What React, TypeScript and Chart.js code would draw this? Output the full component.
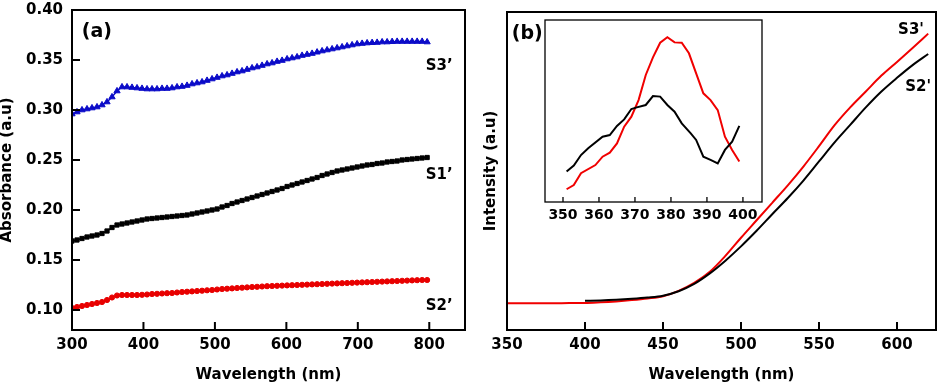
import React, { useEffect, useRef } from "react";
import { Chart, registerables } from "chart.js";
Chart.register(...registerables);

const FONT = '"DejaVu Sans", sans-serif';

// ---------- Panel (a): absorbance ----------
const wavelengthsA = [300,307,314,321,328,335,342,349,356,363,370,377,384,391,398,405,412,419,426,433,440,447,454,461,468,475,482,489,496,503,510,517,524,531,538,545,552,559,566,573,580,587,594,601,608,615,622,629,636,643,650,657,664,671,678,685,692,699,706,713,720,727,734,741,748,755,762,769,776,783,790,797];
const absS3 = [0.296,0.298,0.300,0.301,0.302,0.303,0.305,0.308,0.313,0.319,
  0.323,0.323,0.3225,0.322,0.3215,0.321,0.321,0.321,0.3215,0.3215,
  0.322,0.323,0.3235,0.3245,0.326,0.327,0.328,0.3295,0.331,0.3325,
  0.334,0.335,0.3365,0.338,0.339,0.3405,0.342,0.343,0.3445,0.346,
  0.347,0.3485,0.3495,0.351,0.352,0.353,0.3545,0.3555,0.3565,0.3578,
  0.359,0.360,0.361,0.362,0.363,0.364,0.365,0.366,0.3665,0.367,
  0.3673,0.3675,0.368,0.368,0.3683,0.3685,0.3685,0.3685,0.3685,0.3685,
  0.3685,0.368];
const absS1 = [0.169,0.170,0.1715,0.173,0.174,0.175,0.1765,0.179,0.1825,0.185,
  0.186,0.187,0.188,0.189,0.190,0.191,0.1915,0.192,0.1925,0.193,
  0.1935,0.194,0.1945,0.195,0.196,0.197,0.198,0.199,0.200,0.201,
  0.203,0.2045,0.2065,0.208,0.2095,0.211,0.2125,0.214,0.2155,0.217,
  0.2185,0.220,0.2215,0.2235,0.225,0.2265,0.228,0.2295,0.231,0.2325,
  0.2345,0.236,0.2375,0.239,0.240,0.241,0.242,0.243,0.244,0.245,
  0.2455,0.2465,0.247,0.248,0.2485,0.249,0.250,0.2505,0.251,0.2515,
  0.252,0.2525];
const absS2 = [0.102,0.103,0.104,0.105,0.106,0.107,0.108,0.110,0.1125,0.1145,
  0.115,0.115,0.115,0.115,0.1152,0.1155,0.116,0.1162,0.1165,0.1168,
  0.117,0.1175,0.118,0.1183,0.1186,0.119,0.1193,0.1197,0.120,0.1205,
  0.121,0.1213,0.1216,0.122,0.1223,0.1226,0.123,0.1232,0.1235,0.1238,
  0.124,0.1242,0.1244,0.1246,0.1248,0.125,0.1252,0.1254,0.1256,0.1258,
  0.126,0.1262,0.1264,0.1266,0.1268,0.127,0.1272,0.1274,0.1276,0.1278,
  0.128,0.1282,0.1284,0.1286,0.1288,0.129,0.1292,0.1294,0.1296,0.1298,
  0.130,0.130];
const xTicksA = [300,400,500,600,700,800];
const yTicksA = [0.10,0.15,0.20,0.25,0.30,0.35,0.40];

// ---------- Panel (b): PL intensity ----------
const wavelengthsB3 = [350,360,370,380,390,400,410,420,430,440,450,460,470,480,490,500,510,520,530,540,550,560,570,580,590,600,610,620];
const plS3 = [8.4,8.4,8.4,8.4,8.5,8.5,8.7,9.0,9.4,9.9,10.6,12.3,14.8,18.3,23.3,29,34.5,40,45.5,51.4,57.8,64.4,70,75,80,84.3,88.7,93.2];
const wavelengthsB2 = [400,410,420,430,440,450,460,470,480,490,500,510,520,530,540,550,560,570,580,590,600,610,620];
const plS2 = [9.2,9.3,9.5,9.8,10.2,10.8,12.2,14.5,17.8,21.8,26.3,31.2,36.4,41.5,47,53,59,64.5,70,75,79.3,83.3,86.8];
const xTicksB = [350,400,450,500,550,600];

// ---------- Inset ----------
const insetX3 = [351,353,355,359,361,363,365,367,369,371,373,375,377,379,381,383,385,387,389,391,393,395,397,399];
const insetS3 = [7.0,9.3,15.8,20.3,24.9,27.1,32.2,41.4,46.9,56.0,69.8,79.5,87.5,90.5,87.7,87.5,81.7,70.7,59.7,56.0,50.5,35.9,28.6,22.2];
const insetX2 = [351,353,355,357,361,363,365,367,369,370.5,373,375,377,379,381,383,385.5,387,389,391,393,395,397,399];
const insetS2 = [16.7,20.0,25.8,29.5,35.9,36.8,41.8,45.4,51.1,52.0,53.3,58.2,57.9,53.3,49.6,43.2,37.7,34.1,24.9,23.1,21.2,28.6,33.1,41.8];
const xTicksInset = [350,360,370,380,390,400];

const pts = (xs: number[], ys: number[]) => xs.map((x, i) => ({ x, y: ys[i] }));

const annotatePlugin = {
  id: "annotate",
  afterDraw(chart: any, _args: any, opts: any) {
    const { ctx, chartArea } = chart;
    const { left, right, top, bottom } = chartArea;
    const xs = chart.scales.x;
    const ys = chart.scales.y;
    const len = opts.tickLen;
    const w = opts.tickWidth;
    ctx.save();
    ctx.fillStyle = "#000";
    // inward tick marks, placed through the library's scales
    for (const v of opts.xTickValues || []) {
      const px = xs.getPixelForValue(v);
      ctx.fillRect(px - w / 2, bottom - len, w, len);
    }
    for (const v of opts.yTickValues || []) {
      const py = ys.getPixelForValue(v);
      ctx.fillRect(left, py - w / 2, len, w);
    }
    ctx.strokeStyle = "#000";
    ctx.lineWidth = opts.frameWidth;
    ctx.strokeRect(left, top, right - left, bottom - top);
    ctx.textAlign = "center";
    ctx.textBaseline = "middle";
    for (const l of opts.labels || []) {
      ctx.font = `bold ${l.size}px ${FONT}`;
      ctx.fillText(l.text, xs.getPixelForValue(l.x), ys.getPixelForValue(l.y));
    }
    ctx.restore();
  },
};

const tickFont = (size: number) => ({ family: FONT, size, weight: "bold" as const });
const noPad = (s: any) => { s.paddingTop = 0; s.paddingBottom = 0; s.paddingLeft = 0; s.paddingRight = 0; };
const noGrid = { display: false, drawTicks: false, drawOnChartArea: false };

export default function App() {
  const refA = useRef<HTMLCanvasElement>(null);
  const refB = useRef<HTMLCanvasElement>(null);
  const refC = useRef<HTMLCanvasElement>(null);

  useEffect(() => {
    const blue = "#0b0bc8";
    const red = "#e80000";

    const chartA = new Chart(refA.current!, {
      type: "line",
      data: {
        datasets: [
          { data: pts(wavelengthsA, absS3), borderColor: blue, backgroundColor: blue, borderWidth: 1.5, pointStyle: "triangle", pointRadius: 3.6, pointBorderWidth: 1, tension: 0 },
          { data: pts(wavelengthsA, absS1), borderColor: "#000", backgroundColor: "#000", borderWidth: 1.5, pointStyle: "rect", pointRadius: 3, pointBorderWidth: 1, tension: 0 },
          { data: pts(wavelengthsA, absS2), borderColor: red, backgroundColor: red, borderWidth: 1.5, pointStyle: "circle", pointRadius: 2.6, pointBorderWidth: 1, tension: 0 },
        ],
      },
      options: {
        animation: false,
        responsive: false,
        layout: { padding: { left: 0, right: 2, top: 10, bottom: 0 } },
        plugins: {
          legend: { display: false },
          tooltip: { enabled: false },
          annotate: {
            frameWidth: 2, tickLen: 8, tickWidth: 2,
            xTickValues: xTicksA, yTickValues: yTicksA,
            labels: [
              { text: "(a)", x: 334.7, y: 0.378, size: 19 },
              { text: "S3\u2019", x: 814, y: 0.344, size: 15 },
              { text: "S1\u2019", x: 814, y: 0.235, size: 15 },
              { text: "S2\u2019", x: 814, y: 0.1043, size: 15 },
            ],
          },
        } as any,
        scales: {
          x: {
            type: "linear", min: 300, max: 850,
            afterBuildTicks: (s: any) => { s.ticks = xTicksA.map((v) => ({ value: v })); },
            afterFit: (s: any) => { s.height = 62; noPad(s); },
            grid: noGrid,
            border: { display: false },
            ticks: { color: "#000", font: tickFont(15), padding: 6, maxRotation: 0, autoSkip: false },
            title: { display: true, text: "Wavelength (nm)", color: "#000", font: { ...tickFont(15), lineHeight: 1 }, padding: { top: 0, bottom: 9.5 } },
          },
          y: {
            type: "linear", min: 0.08, max: 0.40,
            afterBuildTicks: (s: any) => { s.ticks = yTicksA.map((v) => ({ value: v })); },
            afterFit: (s: any) => { s.width = 72; noPad(s); },
            grid: noGrid,
            border: { display: false },
            ticks: { color: "#000", font: tickFont(15), padding: 9, callback: (v: any) => Number(v).toFixed(2) },
            title: { display: true, text: "Absorbance (a.u)", color: "#000", font: { ...tickFont(15), lineHeight: 1 }, padding: { top: 0, bottom: 0 } },
          },
        },
      },
      plugins: [annotatePlugin as any],
    });

    const chartB = new Chart(refB.current!, {
      type: "line",
      data: {
        datasets: [
          { data: pts(wavelengthsB2, plS2), borderColor: "#000", borderWidth: 2, pointRadius: 0, cubicInterpolationMode: "monotone" },
          { data: pts(wavelengthsB3, plS3), borderColor: "#f00000", borderWidth: 2, pointRadius: 0, cubicInterpolationMode: "monotone" },
        ],
      },
      options: {
        animation: false,
        responsive: false,
        layout: { padding: { left: 0, right: 1, top: 12, bottom: 0 } },
        plugins: {
          legend: { display: false },
          tooltip: { enabled: false },
          annotate: {
            frameWidth: 2, tickLen: 8, tickWidth: 2,
            xTickValues: xTicksB, yTickValues: [],
            labels: [
              { text: "(b)", x: 363, y: 93.1, size: 19 },
              { text: "S3'", x: 609, y: 94.3, size: 15 },
              { text: "S2'", x: 613.5, y: 76.3, size: 15 },
            ],
          },
        } as any,
        scales: {
          x: {
            type: "linear", min: 350, max: 625,
            afterBuildTicks: (s: any) => { s.ticks = xTicksB.map((v) => ({ value: v })); },
            afterFit: (s: any) => { s.height = 62; noPad(s); },
            grid: noGrid,
            border: { display: false },
            ticks: { color: "#000", font: tickFont(15), padding: 6, maxRotation: 0, autoSkip: false },
            title: { display: true, text: "Wavelength (nm)", color: "#000", font: { ...tickFont(15), lineHeight: 1 }, padding: { top: 0, bottom: 9.5 } },
          },
          y: {
            type: "linear", min: 0, max: 100,
            afterFit: (s: any) => { s.width = 37; noPad(s); },
            grid: noGrid,
            border: { display: false },
            ticks: { display: false },
            title: { display: true, text: "Intensity (a.u)", color: "#000", font: { ...tickFont(15), lineHeight: 1 }, padding: { top: 14, bottom: 0 } },
          },
        },
      },
      plugins: [annotatePlugin as any],
    });

    const chartC = new Chart(refC.current!, {
      type: "line",
      data: {
        datasets: [
          { data: pts(insetX2, insetS2), borderColor: "#000", borderWidth: 2, pointRadius: 0, tension: 0 },
          { data: pts(insetX3, insetS3), borderColor: "#f00000", borderWidth: 2, pointRadius: 0, tension: 0 },
        ],
      },
      options: {
        animation: false,
        responsive: false,
        layout: { padding: { left: 2, right: 2, top: 2, bottom: 0 } },
        plugins: {
          legend: { display: false },
          tooltip: { enabled: false },
          annotate: { frameWidth: 1.3, tickLen: 5, tickWidth: 1.3, xTickValues: xTicksInset, yTickValues: [], labels: [] },
        } as any,
        scales: {
          x: {
            type: "linear", min: 345, max: 405.3,
            afterBuildTicks: (s: any) => { s.ticks = xTicksInset.map((v) => ({ value: v })); },
            afterFit: (s: any) => { s.height = 25; noPad(s); },
            grid: noGrid,
            border: { display: false },
            ticks: { color: "#000", font: tickFont(14), padding: 5, maxRotation: 0, autoSkip: false },
          },
          y: { type: "linear", min: 0, max: 100, display: false },
        },
      },
      plugins: [annotatePlugin as any],
    });

    return () => {
      chartA.destroy();
      chartB.destroy();
      chartC.destroy();
    };
  }, []);

  return (
    <div style={{ position: "fixed", left: 0, top: 0, width: 937, height: 392, background: "#fff", overflow: "hidden" }}>
      <canvas ref={refA} width={470} height={392} style={{ position: "absolute", left: 0, top: 0, width: 470, height: 392 }} />
      <canvas ref={refB} width={467} height={392} style={{ position: "absolute", left: 470, top: 0, width: 467, height: 392 }} />
      <canvas ref={refC} width={221} height={209} style={{ position: "absolute", left: 543, top: 18, width: 221, height: 209 }} />
    </div>
  );
}
